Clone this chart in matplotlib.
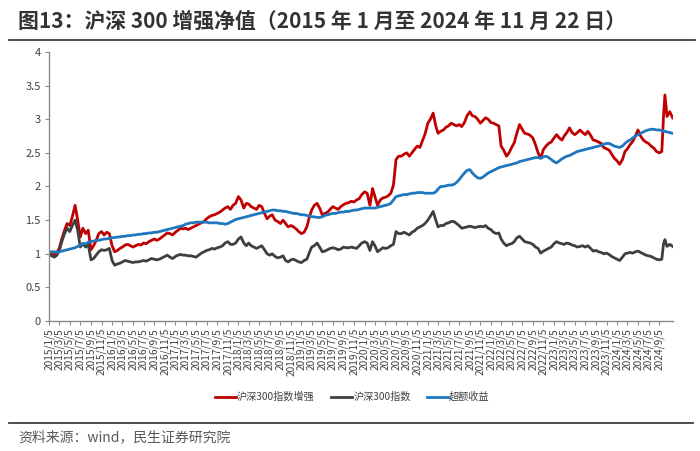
import matplotlib
matplotlib.use("Agg")
import matplotlib.pyplot as plt
import pandas as pd
from matplotlib.lines import Line2D

plt.rcParams['font.family'] = ['Noto Sans CJK SC', 'DejaVu Sans']
plt.rcParams['axes.unicode_minus'] = False

# 半月取点: 每月5日、20日 (2015/1 - 2024/9)，之后补几个尾部日期
grid = [f"{y}-{m:02d}-{d:02d}" for y in range(2015, 2025) for m in range(1, 13)
        for d in (5, 20) if not (y == 2024 and m > 9)]
tail = ["2024-09-30", "2024-10-08", "2024-10-20", "2024-11-05", "2024-11-22"]
dates = pd.to_datetime(grid + tail)

# 沪深300指数增强
enh = [1.03, 1.00, 0.98, 1.02, 1.08, 1.22, 1.35, 1.45, 1.42, 1.55, 1.72, 1.50,
       1.25, 1.38, 1.30, 1.35, 1.06, 1.12, 1.20, 1.30, 1.33, 1.28, 1.32, 1.30,
       1.12, 1.03, 1.05, 1.08, 1.10, 1.13, 1.14, 1.12, 1.10, 1.12, 1.14, 1.13,
       1.16, 1.15, 1.18, 1.20, 1.22, 1.20, 1.22, 1.25, 1.28, 1.31, 1.30, 1.28,
       1.32, 1.35, 1.38, 1.37, 1.38, 1.36, 1.38, 1.40, 1.42, 1.44, 1.46, 1.48,
       1.52, 1.55, 1.57, 1.58, 1.60, 1.62, 1.65, 1.68, 1.70, 1.66, 1.72, 1.75,
       1.85, 1.80, 1.68, 1.75, 1.74, 1.70, 1.68, 1.66, 1.72, 1.70, 1.60, 1.52,
       1.56, 1.58, 1.50, 1.48, 1.45, 1.50, 1.45, 1.40, 1.42, 1.40, 1.37, 1.33,
       1.30, 1.32, 1.40, 1.55, 1.65, 1.72, 1.75, 1.68, 1.58, 1.60, 1.62, 1.66,
       1.70, 1.68, 1.66, 1.70, 1.73, 1.75, 1.76, 1.78, 1.77, 1.80, 1.82, 1.88,
       1.92, 1.90, 1.72, 1.97, 1.85, 1.72, 1.80, 1.83, 1.84, 1.86, 1.90, 2.02,
       2.40, 2.45, 2.45, 2.48, 2.50, 2.45, 2.50, 2.55, 2.60, 2.58, 2.68, 2.78,
       2.94, 3.00, 3.09, 2.90, 2.79, 2.82, 2.84, 2.88, 2.90, 2.94, 2.92, 2.90,
       2.92, 2.89, 2.95, 3.05, 3.11, 3.05, 3.04, 3.00, 2.94, 2.98, 3.02, 3.00,
       2.95, 2.94, 2.92, 2.90, 2.60, 2.54, 2.45, 2.50, 2.58, 2.65, 2.80, 2.92,
       2.85, 2.79, 2.78, 2.76, 2.72, 2.62, 2.50, 2.42, 2.55, 2.60, 2.64, 2.66,
       2.72, 2.77, 2.72, 2.69, 2.75, 2.80, 2.87, 2.80, 2.77, 2.80, 2.84, 2.80,
       2.77, 2.82, 2.76, 2.69, 2.68, 2.66, 2.64, 2.58, 2.56, 2.54, 2.48, 2.42,
       2.38, 2.33, 2.40, 2.52, 2.56, 2.62, 2.67, 2.75, 2.84, 2.75, 2.69, 2.66,
       2.64, 2.60, 2.57, 2.52, 2.50, 2.52,
       3.05, 3.36, 3.04, 3.11, 3.02]

# 沪深300指数
hs300 = [1.00, 0.97, 0.95, 0.98, 1.05, 1.18, 1.30, 1.38, 1.33, 1.42, 1.50, 1.35,
         1.10, 1.15, 1.10, 1.14, 0.91, 0.93, 0.98, 1.03, 1.06, 1.05, 1.06, 1.08,
         0.90, 0.83, 0.85, 0.86, 0.88, 0.90, 0.89, 0.88, 0.87, 0.88, 0.88, 0.89,
         0.90, 0.89, 0.91, 0.93, 0.92, 0.91, 0.92, 0.94, 0.96, 0.98, 0.95, 0.93,
         0.96, 0.98, 0.99, 0.98, 0.98, 0.97, 0.97, 0.96, 0.95, 0.98, 1.01, 1.03,
         1.05, 1.06, 1.08, 1.07, 1.09, 1.10, 1.12, 1.16, 1.18, 1.14, 1.14, 1.16,
         1.22, 1.25, 1.16, 1.12, 1.16, 1.12, 1.10, 1.08, 1.10, 1.12, 1.06, 1.00,
         0.98, 1.00, 0.96, 0.94, 0.95, 0.97, 0.90, 0.88, 0.91, 0.92, 0.90, 0.88,
         0.87, 0.90, 0.92, 1.02, 1.10, 1.12, 1.16, 1.10, 1.03, 1.04, 1.06, 1.08,
         1.09, 1.08, 1.06, 1.07, 1.10, 1.09, 1.09, 1.10, 1.09, 1.08, 1.12, 1.16,
         1.18, 1.16, 1.05, 1.18, 1.12, 1.03, 1.06, 1.09, 1.08, 1.09, 1.12, 1.14,
         1.33, 1.30, 1.30, 1.32, 1.30, 1.28, 1.32, 1.34, 1.38, 1.40, 1.42, 1.45,
         1.50, 1.56, 1.63, 1.50, 1.40, 1.42, 1.42, 1.45, 1.46, 1.48, 1.48, 1.45,
         1.42, 1.38, 1.39, 1.40, 1.41, 1.40, 1.39, 1.40, 1.41, 1.40, 1.42, 1.38,
         1.36, 1.32, 1.30, 1.31, 1.22, 1.16, 1.12, 1.14, 1.15, 1.18, 1.24, 1.26,
         1.22, 1.18, 1.17, 1.16, 1.14, 1.10, 1.08, 1.01, 1.04, 1.06, 1.08, 1.10,
         1.15, 1.18, 1.16, 1.15, 1.14, 1.16, 1.15, 1.13, 1.12, 1.10, 1.11, 1.12,
         1.10, 1.12, 1.08, 1.04, 1.05, 1.03, 1.02, 1.00, 1.01, 0.99, 0.96, 0.94,
         0.92, 0.90, 0.95, 1.00, 1.01, 1.02, 1.01, 1.03, 1.04, 1.02, 1.00, 0.98,
         0.97, 0.96, 0.94, 0.92, 0.91, 0.92,
         1.15, 1.21, 1.11, 1.14, 1.11]

# 超额收益
excess = [1.02, 1.03, 1.03, 1.02, 1.03, 1.04, 1.05, 1.06, 1.07, 1.08, 1.09, 1.11,
          1.13, 1.15, 1.15, 1.17, 1.18, 1.19, 1.20, 1.20, 1.21, 1.22, 1.22, 1.23,
          1.24, 1.24, 1.25, 1.25, 1.26, 1.26, 1.27, 1.27, 1.28, 1.28, 1.29, 1.29,
          1.30, 1.30, 1.31, 1.31, 1.32, 1.32, 1.33, 1.34, 1.35, 1.36, 1.37, 1.38,
          1.39, 1.40, 1.41, 1.42, 1.44, 1.45, 1.46, 1.46, 1.47, 1.47, 1.47, 1.47,
          1.47, 1.46, 1.46, 1.46, 1.46, 1.45, 1.45, 1.44, 1.45, 1.47, 1.49, 1.51,
          1.52, 1.53, 1.54, 1.55, 1.56, 1.57, 1.58, 1.59, 1.60, 1.61, 1.62, 1.63,
          1.64, 1.65, 1.65, 1.64, 1.64, 1.63, 1.63, 1.62, 1.61, 1.60, 1.60, 1.59,
          1.58, 1.58, 1.57, 1.56, 1.55, 1.55, 1.54, 1.54, 1.55, 1.57, 1.58, 1.59,
          1.60, 1.60, 1.61, 1.62, 1.62, 1.63, 1.63, 1.64, 1.65, 1.65, 1.66, 1.67,
          1.68, 1.68, 1.68, 1.68, 1.68, 1.69, 1.70, 1.71, 1.72, 1.73, 1.75, 1.80,
          1.85, 1.86, 1.87, 1.88, 1.88, 1.89, 1.90, 1.90, 1.91, 1.91, 1.91, 1.90,
          1.90, 1.90, 1.90, 1.92, 1.96, 2.00, 2.00, 2.01, 2.02, 2.02, 2.03, 2.06,
          2.10, 2.15, 2.20, 2.24, 2.25, 2.20, 2.16, 2.13, 2.12, 2.14, 2.17, 2.20,
          2.22, 2.24, 2.26, 2.28, 2.29, 2.30, 2.31, 2.32, 2.33, 2.34, 2.35, 2.37,
          2.38, 2.39, 2.40, 2.41, 2.42, 2.43, 2.43, 2.42, 2.44, 2.45, 2.43, 2.40,
          2.37, 2.35, 2.38, 2.41, 2.43, 2.45, 2.46, 2.48, 2.50, 2.52, 2.53, 2.54,
          2.55, 2.56, 2.57, 2.58, 2.59, 2.60, 2.61, 2.63, 2.64, 2.64, 2.62, 2.60,
          2.59, 2.58, 2.60, 2.64, 2.67, 2.69, 2.72, 2.75, 2.77, 2.79, 2.81, 2.83,
          2.84, 2.85, 2.85, 2.84, 2.84, 2.83,
          2.82, 2.82, 2.81, 2.80, 2.79]

labels = ["沪深300指数增强", "沪深300指数", "超额收益"]
colors = ["#C00000", "#3F3F3F", "#1F77BE"]

tick_dates = pd.date_range("2015-01-01", "2024-09-01", freq="2MS") + pd.Timedelta(days=4)
tick_labels = [f"{d.year}/{d.month}/{d.day}" for d in tick_dates]

fig = plt.figure(figsize=(7, 4.51), dpi=100)
ax = fig.add_axes([0.07, 0.288, 0.891, 0.597])

for vals, lab, c in zip([enh, hs300, excess], labels, colors):
    ax.plot(dates, vals, color=c, lw=2.0, label=lab)

ax.set_ylim(0, 4)
ax.set_yticks([0, 0.5, 1, 1.5, 2, 2.5, 3, 3.5, 4])
ax.set_yticklabels(["0", "0.5", "1", "1.5", "2", "2.5", "3", "3.5", "4"])
ax.set_xlim(pd.Timestamp("2015-01-05"), pd.Timestamp("2024-11-22"))
ax.set_xticks(tick_dates)
ax.set_xticklabels(tick_labels, rotation=90)

for s in ["top", "right"]:
    ax.spines[s].set_visible(False)
for s in ["left", "bottom"]:
    ax.spines[s].set_color("#8C8C8C")
    ax.spines[s].set_linewidth(1.0)
ax.tick_params(axis="both", colors="#8C8C8C", length=3, width=0.8, labelcolor="#404040")
ax.tick_params(axis="y", labelsize=8, pad=3)
ax.tick_params(axis="x", labelsize=7.3, pad=2)

handles = [Line2D([], [], color=c, lw=2) for c in colors]
fig.legend(handles, labels, loc="center", bbox_to_anchor=(0.503, 0.12), ncol=3,
           frameon=False, fontsize=7.3, handlelength=2.1, handletextpad=0.1,
           columnspacing=1.6, labelcolor="#404040")

# 标题与来源
fig.text(18 / 700, 0.953, "图13：沪深 300 增强净值（2015 年 1 月至 2024 年 11 月 22 日）",
         fontsize=15, fontweight="bold", color="#333333", va="center", ha="left")
fig.add_artist(Line2D([9 / 700, 695 / 700], [0.912, 0.912], color="#404040", lw=1.3))
fig.add_artist(Line2D([9 / 700, 693 / 700], [0.062, 0.062], color="#404040", lw=1.3))
fig.text(18 / 700, 0.031, "资料来源：wind，民生证券研究院", fontsize=10,
         color="#595959", va="center", ha="left")

fig.savefig("out.png", dpi=100)
